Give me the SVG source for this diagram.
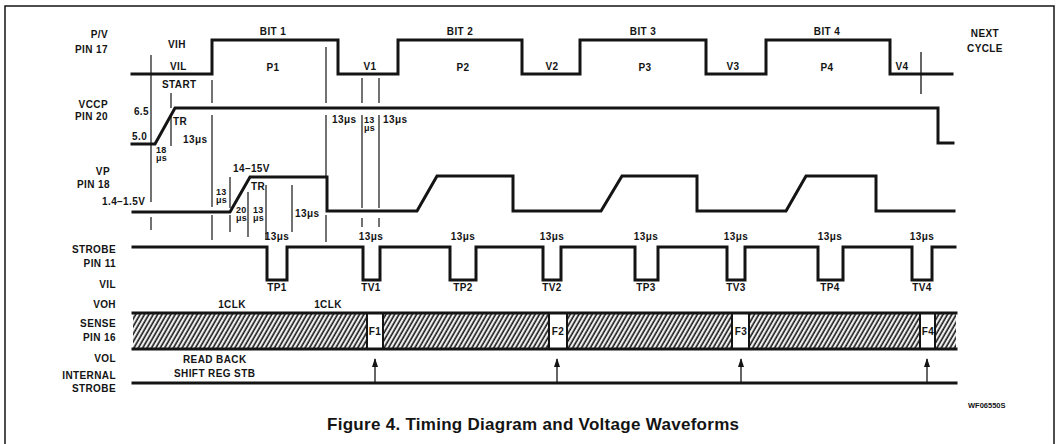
<svg xmlns="http://www.w3.org/2000/svg" width="1061" height="444" viewBox="0 0 1061 444">
<defs>
<style>
text{font-family:"Liberation Sans",Arial,sans-serif;font-weight:bold;font-size:10px;fill:#141414;letter-spacing:0.4px}
.r{text-anchor:end}
.m{text-anchor:middle}
.s{font-size:9px;letter-spacing:0.2px}
.w{fill:none;stroke:#141414;stroke-width:3;stroke-linejoin:miter;stroke-linecap:square}
.t{fill:none;stroke:#141414;stroke-width:1.2}
.a{fill:none;stroke:#141414;stroke-width:1.3}
.cap{font-size:17px;letter-spacing:0}
.id{font-size:7.5px;letter-spacing:0}
</style>
<pattern id="hatch" patternUnits="userSpaceOnUse" width="3.8" height="10" patternTransform="rotate(30)">
<rect width="3.8" height="10" fill="#fff"/>
<line x1="1.2" y1="0" x2="1.2" y2="10" stroke="#141414" stroke-width="1.7"/>
</pattern>
<marker id="ah" markerWidth="9" markerHeight="6" refX="8" refY="3" orient="auto" markerUnits="userSpaceOnUse" viewBox="0 0 9 6">
<path d="M0,0 L9,3 L0,6 Z" fill="#141414"/>
</marker>
</defs>
<rect width="1061" height="444" fill="#fff"/>
<path d="M5,444 V6 H1054 V444" fill="none" stroke="#141414" stroke-width="1.5"/>

<g id="pv-signal">
<text class="r" x="108" y="38">P/V</text>
<text class="r" x="108" y="53">PIN 17</text>
<text x="168" y="48">VIH</text>
<text x="170" y="70">VIL</text>
<path class="w" d="M132,74 H212 V40 H338 V74 H398 V40 H522 V74 H580 V40 H706 V74 H766 V40 H890 V74 H952"/>
<text class="m" x="273" y="35">BIT 1</text>
<text class="m" x="460" y="35">BIT 2</text>
<text class="m" x="643" y="35">BIT 3</text>
<text class="m" x="827" y="35">BIT 4</text>
<text class="m" x="273" y="71">P1</text>
<text class="m" x="463" y="71">P2</text>
<text class="m" x="645" y="71">P3</text>
<text class="m" x="827" y="71">P4</text>
<text class="m" x="370" y="70">V1</text>
<text class="m" x="552" y="70">V2</text>
<text class="m" x="733" y="70">V3</text>
<text class="m" x="902" y="70">V4</text>
<line class="a" x1="921" y1="52" x2="921" y2="94"/>
<text class="m" x="985" y="37">NEXT</text>
<text class="m" x="985" y="52">CYCLE</text>
</g>

<g id="vccp-signal">
<text class="r" x="108" y="108">VCCP</text>
<text class="r" x="108" y="120">PIN 20</text>
<path class="w" d="M132,144 H155 L175,108 H938 V143 H953"/>
<text x="162" y="88">START</text>
<text class="r" x="149" y="115">6.5</text>
<text x="132" y="140">5.0</text>
<text x="173" y="125">TR</text>
<text x="183" y="143">13μs</text>
<text class="s" x="156" y="153">18</text>
<text class="s" x="156" y="161">μs</text>
<text x="332" y="123">13μs</text>
<text class="s" x="364" y="123">13</text>
<text class="s" x="364" y="131">μs</text>
<text x="383" y="123">13μs</text>
</g>

<g id="vp-signal">
<text class="r" x="110" y="175">VP</text>
<text class="r" x="110" y="188">PIN 18</text>
<text x="102" y="205">1.4–1.5V</text>
<path class="w" d="M133,212 H230 L250,177 H327 V211 H417 L437,176 H513 V211 H601 L622,176 H697 V211 H786 L806,176 H876 V211 H954"/>
<text x="233" y="172">14–15V</text>
<text x="251" y="190">TR</text>
<text class="s" x="216" y="195">13</text>
<text class="s" x="216" y="203">μs</text>
<text class="s" x="236" y="213">20</text>
<text class="s" x="236" y="221">μs</text>
<text class="s" x="253" y="213">13</text>
<text class="s" x="253" y="221">μs</text>
<text x="295" y="217">13μs</text>
</g>

<g id="strobe-signal">
<text class="r" x="116" y="253">STROBE</text>
<text class="r" x="116" y="267">PIN 11</text>
<text class="r" x="116" y="288">VIL</text>
<path class="w" d="M133,247 H267 V280 H287 V247 H363 V280 H380 V247 H450 V280 H476 V247 H543 V280 H561 V247 H635 V280 H658 V247 H727 V280 H745 V247 H818 V280 H843 V247 H912 V280 H932 V247 H955"/>
<text class="m" x="277" y="240">13μs</text>
<text class="m" x="371" y="240">13μs</text>
<text class="m" x="463" y="240">13μs</text>
<text class="m" x="552" y="240">13μs</text>
<text class="m" x="646" y="240">13μs</text>
<text class="m" x="736" y="240">13μs</text>
<text class="m" x="830" y="240">13μs</text>
<text class="m" x="922" y="240">13μs</text>
<text class="m" x="277" y="291">TP1</text>
<text class="m" x="371" y="291">TV1</text>
<text class="m" x="463" y="291">TP2</text>
<text class="m" x="552" y="291">TV2</text>
<text class="m" x="646" y="291">TP3</text>
<text class="m" x="736" y="291">TV3</text>
<text class="m" x="830" y="291">TP4</text>
<text class="m" x="922" y="291">TV4</text>
</g>

<g id="sense-signal">
<text class="r" x="116" y="308">VOH</text>
<text class="m" x="232" y="308">1CLK</text>
<text class="m" x="328" y="308">1CLK</text>
<text class="r" x="116" y="327">SENSE</text>
<text class="r" x="116" y="341">PIN 16</text>
<text class="r" x="116" y="362">VOL</text>
<rect x="133" y="313" width="823" height="36" fill="url(#hatch)"/>
<rect x="367" y="313" width="16" height="36" fill="#fff" stroke="#141414" stroke-width="2"/>
<rect x="549" y="313" width="18" height="36" fill="#fff" stroke="#141414" stroke-width="2"/>
<rect x="732" y="313" width="17" height="36" fill="#fff" stroke="#141414" stroke-width="2"/>
<rect x="920" y="313" width="15" height="36" fill="#fff" stroke="#141414" stroke-width="2"/>
<line class="w" x1="133" y1="313" x2="956" y2="313"/>
<line class="w" x1="133" y1="349" x2="956" y2="349"/>
<text class="m" x="375" y="335">F1</text>
<text class="m" x="558" y="335">F2</text>
<text class="m" x="741" y="335">F3</text>
<text class="m" x="928" y="335">F4</text>
</g>

<g id="internal-strobe">
<text x="183" y="363">READ BACK</text>
<text x="174" y="377">SHIFT REG STB</text>
<text class="r" x="116" y="379">INTERNAL</text>
<text class="r" x="116" y="392">STROBE</text>
<line class="w" x1="133" y1="383" x2="956" y2="383"/>
</g>

<g id="connectors">
<line class="a" x1="375" y1="382" x2="375" y2="359" marker-end="url(#ah)"/>
<line class="a" x1="557" y1="382" x2="557" y2="359" marker-end="url(#ah)"/>
<line class="a" x1="741" y1="382" x2="741" y2="359" marker-end="url(#ah)"/>
<line class="a" x1="927" y1="382" x2="927" y2="359" marker-end="url(#ah)"/>
<path class="t" d="M151,55 V202 M151,217 V230
M171,93 V108 M171,116 V146
M212,80 V103 M212,115 V207 M212,215 V240
M230,177 V208 M230,215 V232
M248,192 V237
M266,185 V240
M292,185 V232
M326,47 V103 M326,115 V177 M326,215 V242
M362,78 V103 M362,115 V208 M362,218 V227
M379,78 V103 M379,115 V208 M379,218 V227"/>
</g>

<g id="caption">
<text class="id" x="968" y="408">WF06550S</text>
<text class="cap m" x="533" y="430" textLength="412" lengthAdjust="spacing">Figure 4. Timing Diagram and Voltage Waveforms</text>
</g>
</svg>
